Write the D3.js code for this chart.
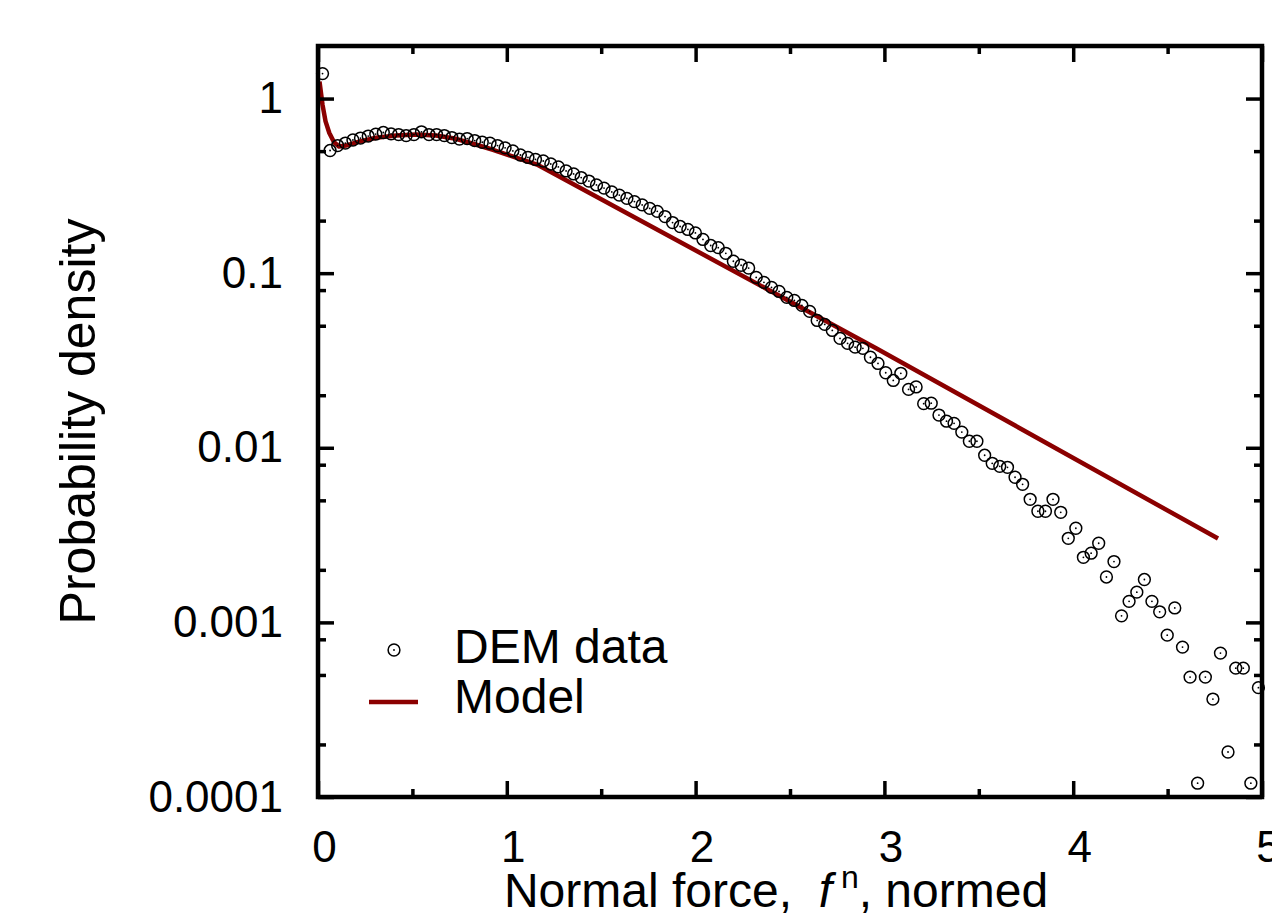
<!DOCTYPE html>
<html>
<head>
<meta charset="utf-8">
<script src="https://cdn.jsdelivr.net/npm/d3@7"></script>
<style>
  body { margin: 0; background: #fff; }
  svg { display: block; font-family: "Liberation Sans", Arial, sans-serif; }
</style>
</head>
<body>
<div id="chart-container"></div>
<script>
// DEM histogram of the normed normal force: bin centre and density
const demForce = [
    0.024, 0.064, 0.104, 0.145, 0.185, 0.225, 0.266, 0.306, 0.346, 0.387,
    0.427, 0.467, 0.508, 0.548, 0.588, 0.628, 0.669, 0.709, 0.749, 0.790,
    0.830, 0.870, 0.911, 0.951, 0.991, 1.032, 1.072, 1.112, 1.152, 1.193,
    1.233, 1.273, 1.314, 1.354, 1.394, 1.435, 1.475, 1.515, 1.556, 1.596,
    1.636, 1.676, 1.717, 1.757, 1.797, 1.838, 1.878, 1.918, 1.959, 1.999,
    2.039, 2.080, 2.120, 2.160, 2.200, 2.241, 2.281, 2.321, 2.362, 2.402,
    2.442, 2.483, 2.523, 2.563, 2.604, 2.644, 2.684, 2.724, 2.765, 2.805,
    2.845, 2.886, 2.926, 2.966, 3.007, 3.047, 3.087, 3.128, 3.168, 3.208,
    3.248, 3.289, 3.329, 3.369, 3.410, 3.450, 3.490, 3.531, 3.571, 3.611,
    3.652, 3.692, 3.732, 3.772, 3.813, 3.853, 3.893, 3.934, 3.974, 4.014,
    4.054, 4.095, 4.135, 4.176, 4.216, 4.256, 4.296, 4.337, 4.377, 4.417,
    4.458, 4.498, 4.538, 4.579, 4.619, 4.659, 4.700, 4.740, 4.780, 4.820,
    4.861, 4.901, 4.941, 4.981
];
const demDensity = [
    1.39, 0.504, 0.538, 0.556, 0.579, 0.594, 0.610, 0.626, 0.639, 0.628,
    0.622, 0.614, 0.622, 0.645, 0.622, 0.622, 0.614, 0.598, 0.586, 0.590,
    0.575, 0.562, 0.555, 0.538, 0.522, 0.501, 0.475, 0.460, 0.448, 0.439,
    0.422, 0.406, 0.385, 0.370, 0.353, 0.337, 0.320, 0.307, 0.292, 0.280,
    0.268, 0.257, 0.246, 0.235, 0.226, 0.211, 0.195, 0.185, 0.178, 0.170,
    0.156, 0.144, 0.140, 0.130, 0.117, 0.111, 0.107, 0.0946, 0.0886, 0.0829,
    0.0786, 0.0727, 0.0698, 0.0654, 0.0604, 0.0536, 0.0509, 0.0470, 0.0423, 0.0396,
    0.0377, 0.0371, 0.0330, 0.0304, 0.0269, 0.0243, 0.0267, 0.0216, 0.0223, 0.0179,
    0.0180, 0.0154, 0.0142, 0.0138, 0.0123, 0.0109, 0.0109, 0.00906, 0.00815, 0.00783,
    0.00773, 0.00678, 0.00618, 0.00507, 0.00433, 0.00433, 0.00507, 0.00427, 0.00303, 0.00346,
    0.00236, 0.00249, 0.00284, 0.00182, 0.00223, 0.00109, 0.00132, 0.00149, 0.00176, 0.00132,
    0.00115, 0.000845, 0.00121, 0.000722, 0.000486, 0.000120, 0.000486, 0.000364, 0.000667, 0.000181,
    0.000547, 0.000547, 0.000120, 0.000423
];

// model curve
const modelForce = [0.008, 0.024, 0.040, 0.060, 0.085, 0.111, 0.148, 0.217, 0.307, 0.413,
    0.519, 0.625, 0.731, 0.821, 0.927, 1.049, 1.160, 2.956, 4.767];
const modelDensity = [1.25, 0.92, 0.74, 0.635, 0.562, 0.531, 0.538, 0.567, 0.596, 0.614,
    0.622, 0.614, 0.588, 0.551, 0.509, 0.459, 0.419, 0.0372, 0.00302];

const xTicks = [0, 1, 2, 3, 4, 5];
const xMinorTicks = [0.5, 1.5, 2.5, 3.5, 4.5];
const yTicks = [1, 0.1, 0.01, 0.001, 0.0001];
const yTickLabels = ["1", "0.1", "0.01", "0.001", "0.0001"];
const yMinorTicks = [0.5, 0.2, 0.08, 0.05, 0.02, 0.008, 0.005, 0.002, 0.0008, 0.0005, 0.0002];
const legendLabels = ["DEM data", "Model"];

const width = 1272;
const height = 919;
const margin = ({ top: 46, right: 10, bottom: 122, left: 318 });
const red = "#8b0000";

const svg = d3.select("#chart-container")
    .append("svg")
    .attr("width", width)
    .attr("height", height);

const x = d3.scaleLinear()
    .domain([0, 5])
    .range([margin.left, width - margin.right]);

const y = d3.scaleLog()
    .domain([1e-4, 2])
    .range([height - margin.bottom, margin.top]);

const data = demForce.map((f, i) => ({ f: f, p: demDensity[i] }));
const model = modelForce.map((f, i) => ({ f: f, p: modelDensity[i] }));

// model line
svg.append("path")
    .datum(model)
    .attr("fill", "none")
    .attr("stroke", red)
    .attr("stroke-width", 4.5)
    .attr("stroke-linejoin", "round")
    .attr("d", d3.line().x(d => x(d.f)).y(d => y(d.p)));

// DEM points: open circle with a dot in the middle
const pts = svg.append("g");
pts.selectAll(".dot")
    .data(data)
    .enter().append("circle")
    .attr("class", "dot")
    .attr("cx", d => x(d.f))
    .attr("cy", d => y(d.p))
    .attr("r", 5.9)
    .attr("fill", "none")
    .attr("stroke", "#000")
    .attr("stroke-width", 1.5);
pts.selectAll(".centre")
    .data(data)
    .enter().append("circle")
    .attr("class", "centre")
    .attr("cx", d => x(d.f))
    .attr("cy", d => y(d.p))
    .attr("r", 0.9)
    .attr("fill", "#000");

// ticks on all four sides, pointing inward
const styleTicks = g => g
    .call(g => g.select(".domain").remove())
    .call(g => g.selectAll(".tick line").attr("stroke", "#000").attr("stroke-width", 3.5));

const yb = height - margin.bottom;
const xr = width - margin.right;

svg.append("g")
    .attr("transform", `translate(0,${yb})`)
    .call(d3.axisBottom(x).tickValues(xTicks).tickSizeInner(-16).tickSizeOuter(0).tickFormat(d3.format("d")))
    .call(styleTicks)
    .call(g => g.selectAll(".tick text")
        .attr("y", 65).attr("dy", 0).attr("dx", 6)
        .attr("fill", "#000").attr("font-size", 44).attr("font-family", null));

svg.append("g")
    .attr("transform", `translate(0,${yb})`)
    .call(d3.axisBottom(x).tickValues(xMinorTicks).tickSizeInner(-8).tickSizeOuter(0).tickFormat(""))
    .call(styleTicks);

svg.append("g")
    .attr("transform", `translate(0,${margin.top})`)
    .call(d3.axisTop(x).tickValues(xTicks).tickSizeInner(-16).tickSizeOuter(0).tickFormat(""))
    .call(styleTicks);

svg.append("g")
    .attr("transform", `translate(0,${margin.top})`)
    .call(d3.axisTop(x).tickValues(xMinorTicks).tickSizeInner(-8).tickSizeOuter(0).tickFormat(""))
    .call(styleTicks);

svg.append("g")
    .attr("transform", `translate(${margin.left},0)`)
    .call(d3.axisLeft(y).tickValues(yTicks).tickSizeInner(-16).tickSizeOuter(0).tickPadding(35)
        .tickFormat((d, i) => yTickLabels[i]))
    .call(styleTicks)
    .call(g => g.selectAll(".tick text")
        .attr("fill", "#000").attr("font-size", 44).attr("font-family", null));

svg.append("g")
    .attr("transform", `translate(${margin.left},0)`)
    .call(d3.axisLeft(y).tickValues(yMinorTicks).tickSizeInner(-8).tickSizeOuter(0).tickFormat(""))
    .call(styleTicks);

svg.append("g")
    .attr("transform", `translate(${xr},0)`)
    .call(d3.axisRight(y).tickValues(yTicks).tickSizeInner(-16).tickSizeOuter(0).tickFormat(""))
    .call(styleTicks);

svg.append("g")
    .attr("transform", `translate(${xr},0)`)
    .call(d3.axisRight(y).tickValues(yMinorTicks).tickSizeInner(-8).tickSizeOuter(0).tickFormat(""))
    .call(styleTicks);

// frame
svg.append("rect")
    .attr("x", margin.left)
    .attr("y", margin.top)
    .attr("width", xr - margin.left)
    .attr("height", yb - margin.top)
    .attr("fill", "none")
    .attr("stroke", "#000")
    .attr("stroke-width", 4.5);

// axis titles
const xTitle = svg.append("text")
    .attr("x", 776)
    .attr("y", 907)
    .attr("text-anchor", "middle")
    .attr("font-size", 48);
xTitle.append("tspan").text("Normal force,\u00a0\u00a0");
xTitle.append("tspan").attr("font-style", "italic").text("f");
xTitle.append("tspan").attr("font-size", 32).attr("dy", -19).text("\u00a0n");
xTitle.append("tspan").attr("dy", 19).text(", normed");

svg.append("text")
    .attr("transform", `translate(95,${(margin.top + yb) / 2}) rotate(-90)`)
    .attr("text-anchor", "middle")
    .attr("font-size", 50)
    .text("Probability density");

// legend
const legend = svg.append("g");
legend.append("circle")
    .attr("cx", 394).attr("cy", 650).attr("r", 5.9)
    .attr("fill", "none").attr("stroke", "#000").attr("stroke-width", 1.5);
legend.append("circle")
    .attr("cx", 394).attr("cy", 650).attr("r", 0.9).attr("fill", "#000");
legend.append("line")
    .attr("x1", 369).attr("x2", 418).attr("y1", 702).attr("y2", 702)
    .attr("stroke", red).attr("stroke-width", 4.5);
legend.selectAll(".label")
    .data(legendLabels)
    .enter().append("text")
    .attr("class", "label")
    .attr("x", 454)
    .attr("y", (d, i) => 663 + i * 50)
    .attr("font-size", 48)
    .text(d => d);
</script>
</body>
</html>
